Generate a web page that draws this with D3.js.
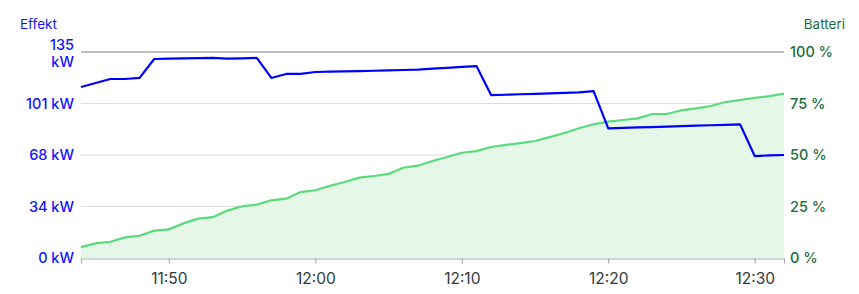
<!DOCTYPE html>
<html>
<head>
<meta charset="utf-8">
<script src="https://cdn.jsdelivr.net/npm/d3@7"></script>
<style>
  html, body { margin: 0; padding: 0; background: #fff; }
  svg { display: block; font-family: Inter, "Noto Sans", sans-serif; }
</style>
</head>
<body>
<svg id="chart" width="859" height="294"></svg>
<script>
// ---- data ----
const startTime = "11:44";
const endTime = "12:32";
// one sample per minute from 11:44 to 12:32
const powerKW = [
  112.1, 114.7, 117.3, 117.3, 118.0, 130.4, 130.6, 130.8, 131.0, 131.1,
  130.6, 130.8, 131.1, 118.0, 120.6, 120.7, 121.9, 122.1, 122.3, 122.5,
  122.7, 122.9, 123.2, 123.5, 124.1, 124.6, 125.2, 125.8, 106.8, 107.0,
  107.3, 107.6, 107.9, 108.2, 108.6, 109.4, 85.0, 85.3, 85.6, 85.8,
  86.1, 86.4, 86.7, 87.0, 87.3, 87.6, 66.8, 67.2, 67.5
];
const batteryPct = [
  5.3, 7.1, 7.9, 10.0, 10.8, 13.3, 13.9, 16.8, 19.1, 19.8,
  23.0, 25.1, 25.9, 28.0, 28.8, 32.0, 32.9, 35.0, 36.9, 39.0,
  39.8, 40.8, 43.8, 44.8, 47.1, 49.0, 51.1, 51.9, 53.9, 54.9,
  55.8, 56.8, 58.7, 60.7, 63.0, 64.9, 66.2, 67.0, 67.8, 69.9,
  69.9, 71.7, 72.6, 73.8, 75.7, 76.7, 77.7, 78.6, 79.8
];
const xTickLabels = ["11:50", "12:00", "12:10", "12:20", "12:30"];
const leftTicks = [0, 33.75, 67.5, 101.25, 135];
const rightTicks = [0, 25, 50, 75, 100];
const leftTitle = "Effekt";
const rightTitle = "Batteri";

// ---- helpers ----
const parseT = d3.timeParse("%H:%M");
const t0 = parseT(startTime);
const times = powerKW.map((_, i) => d3.timeMinute.offset(t0, i));

const W = 859, H = 294;
const m = { left: 81, right: 75, top: 52, bottom: 36 };
const svg = d3.select("#chart");

const x = d3.scaleTime().domain([t0, parseT(endTime)]).range([m.left, W - m.right]);
const yL = d3.scaleLinear().domain([0, 135]).range([H - m.bottom, m.top]);
const yR = d3.scaleLinear().domain([0, 100]).range([H - m.bottom, m.top]);

const blue = "#1414ff";
const green = "#1b6e3c";

// gridlines
svg.append("g").selectAll("line").data(rightTicks.slice(1)).join("line")
  .attr("x1", m.left).attr("x2", W - m.right)
  .attr("y1", d => yR(d)).attr("y2", d => yR(d))
  .attr("stroke", d => d === 100 ? "#a8a8a8" : "#dcdcdc")
  .attr("stroke-width", d => d === 100 ? 1.4 : 1.2);

// battery area
const area = d3.area().x((d, i) => x(times[i])).y0(yR(0)).y1(d => yR(d));
svg.append("path").datum(batteryPct).attr("d", area).attr("fill", "#e5f8e7");
const bline = d3.line().x((d, i) => x(times[i])).y(d => yR(d));
svg.append("path").datum(batteryPct).attr("d", bline)
  .attr("fill", "none").attr("stroke", "#5ada7b").attr("stroke-width", 2.2)
  .attr("stroke-linejoin", "round");

// power line
const pline = d3.line().x((d, i) => x(times[i])).y(d => yL(d));
svg.append("path").datum(powerKW).attr("d", pline)
  .attr("fill", "none").attr("stroke", "#0000ff").attr("stroke-width", 2.2)
  .attr("stroke-linejoin", "round");

// x axis
const xTickDates = xTickLabels.map(parseT);
const xAxis = d3.axisBottom(x)
  .tickValues([t0, ...xTickDates, parseT(endTime)])
  .tickFormat(d => xTickLabels.includes(d3.timeFormat("%H:%M")(d)) ? d3.timeFormat("%H:%M")(d) : "")
  .tickSize(5).tickSizeOuter(0);
const gx = svg.append("g").attr("transform", `translate(0,${H - m.bottom + 0.5})`).call(xAxis);
gx.select(".domain").attr("stroke", "#ababab").attr("stroke-width", 1.2);
gx.selectAll(".tick line").attr("stroke", "#ababab").attr("stroke-width", 1.2);
gx.selectAll(".tick text").attr("fill", "#2c3b3b").attr("font-size", 15.5)
  .attr("font-family", "Inter, sans-serif").attr("dy", "1.15em");

// left axis labels
const gl = svg.append("g");
gl.selectAll("text").data(leftTicks).join("text")
  .attr("x", 74).attr("text-anchor", "end")
  .attr("fill", blue).attr("font-size", 14.5).attr("font-weight", 500)
  .each(function(d) {
    const s = d3.select(this);
    const v = Math.round(d);
    if (d === 135) {
      s.append("tspan").attr("x", 74).attr("y", yL(d) - 2).text(v);
      s.append("tspan").attr("x", 74).attr("y", yL(d) + 15).text("kW");
    } else {
      s.attr("y", yL(d)).attr("dy", "0.36em").text(v + " kW");
    }
  });
svg.append("text").attr("x", 20).attr("y", 29).attr("fill", blue)
  .attr("font-size", 13.5).text(leftTitle);

// right axis labels
svg.append("g").selectAll("text").data(rightTicks).join("text")
  .attr("x", 790).attr("y", d => yR(d)).attr("dy", "0.36em")
  .attr("fill", green).attr("font-size", 14.5).attr("font-weight", 500)
  .text(d => d + " %");
svg.append("text").attr("x", 845).attr("y", 29).attr("text-anchor", "end")
  .attr("fill", green).attr("font-size", 13.5).text(rightTitle);
</script>
</body>
</html>
